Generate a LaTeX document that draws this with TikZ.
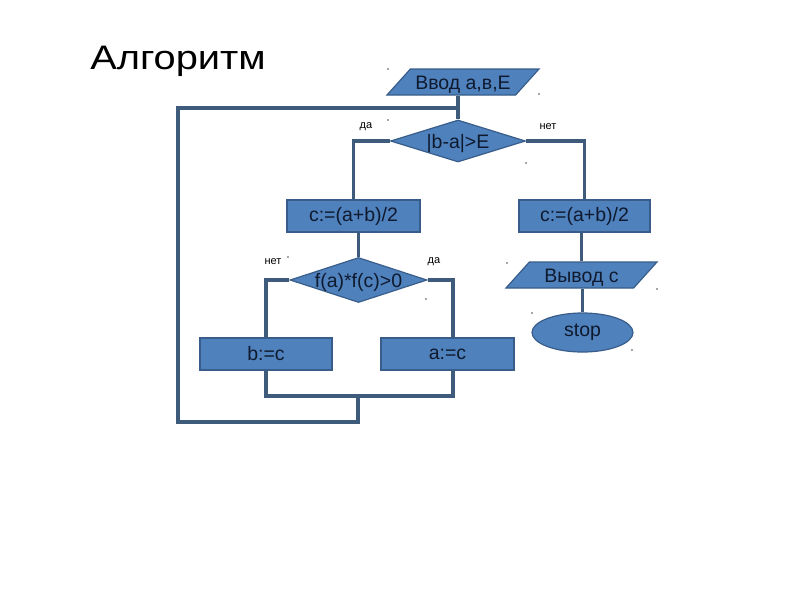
\documentclass[tikz,border=0pt]{standalone}
\usepackage{fontspec}
\setmainfont{Liberation Sans}
\usetikzlibrary{shapes.geometric}
\definecolor{fillb}{HTML}{4F81BD}
\definecolor{edgeb}{HTML}{385D8A}
\definecolor{lineb}{HTML}{3E5B7C}
\definecolor{txt}{HTML}{0F1A2E}
\newcommand\flattext[1]{\makebox[1pt]{\rule{0pt}{1pt}\smash{\raisebox{-0.36em}{\makebox[0pt]{#1}}}}}
\newcommand\iotext[1]{\makebox[1pt]{\rule[-13pt]{0pt}{26pt}\smash{\raisebox{-0.36em}{\makebox[0pt]{#1}}}}}
\begin{document}
\begin{tikzpicture}[x=1pt,y=-1pt,
  shp/.style={draw=edgeb, fill=fillb, line width=1.2pt, inner sep=0pt, text=txt, font=\fontsize{19.5}{21}\selectfont},
  procbox/.style={shp, rectangle, minimum width=133pt, minimum height=32pt},
  iobox/.style={shp, trapezium, trapezium left angle=48, trapezium right angle=132, trapezium stretches body=true, minimum width=152pt},
  decision/.style={shp, diamond, aspect=3.2},
  term/.style={shp, ellipse, minimum width=101pt, minimum height=39pt},
  conn/.style={draw=lineb, line width=3.5pt},
  lbl/.style={font=\fontsize{11}{12}\selectfont, text=black, inner sep=0pt},
  dot/.style={circle, fill=black!70, inner sep=0pt, minimum size=1.8pt}
]
\useasboundingbox (0,0) rectangle (800,600);
\fill[white] (0,0) rectangle (800,600);

\node[font=\fontsize{34}{38}\selectfont, text=black, inner sep=0pt] (title) at (178,61) {\scalebox{1.17}[1]{Алгоритм}};

\node[iobox] (in) at (463,82) {\iotext{Ввод а,в,Е}};
\node[decision, minimum width=135pt, minimum height=42pt] (d1) at (458,141) {\flattext{|b-a|>E}};
\node[procbox] (c1) at (353.5,216) {c:=(a+b)/2};
\node[procbox, minimum width=131pt] (c2) at (584.5,216) {c:=(a+b)/2};
\node[decision, minimum width=137pt, minimum height=45pt] (d2) at (358.5,280) {\flattext{f(a)*f(c)>0}};
\node[procbox, minimum width=132pt] (b) at (266,354) {b:=c};
\node[procbox] (a) at (447.5,354) {a:=c};
\node[iobox, minimum width=151pt] (out) at (581.5,275) {\iotext{Вывод с}};
\node[term] (stop) at (582.5,332.5) {stop};

\node[lbl] (l1) at (366,127) {да};
\node[lbl] (l2) at (548,127) {нет};
\node[lbl] (l3) at (273,262) {нет};
\node[lbl] (l4) at (434,262) {да};

\coordinate (ra) at (453,280);
\coordinate (j) at (358,396);
\coordinate (lb) at (358,422);
\coordinate (ll) at (178,422);
\coordinate (lt) at (178,108);

\draw[conn] (in.south -| d1.north) -- (d1.north);
\draw[conn] (d1.west) -- (c1.north |- d1.west) -- (c1.north);
\draw[conn] (d1.east) -- (c2.north |- d1.east) -- (c2.north);
\draw[conn] (c1.south -| d2.north) -- (d2.north);
\draw[conn] (d2.west) -- (b.north |- d2.west) -- (b.north);
\draw[conn] (d2.east) -- (ra) -- (ra |- a.north);
\draw[conn] (b.south) -- (b.south |- j) -- (j);
\draw[conn] (ra |- a.south) -- (ra |- j) -- (j);
\draw[conn] (j) -- (lb) -- (ll) -- (lt) -- (lt -| d1.north);
\draw[conn] (out.north |- c2.south) -- (out.north);
\draw[conn] (stop.north |- out.south) -- (stop.north);

\foreach \p [count=\i] in {(388,69),(539,94),(388,120),(526,163),(288,257),(426,299),(507,263),(657,289),(532,313),(632,350)}
  \node[dot] (dot\i) at \p {};
\end{tikzpicture}
\end{document}
